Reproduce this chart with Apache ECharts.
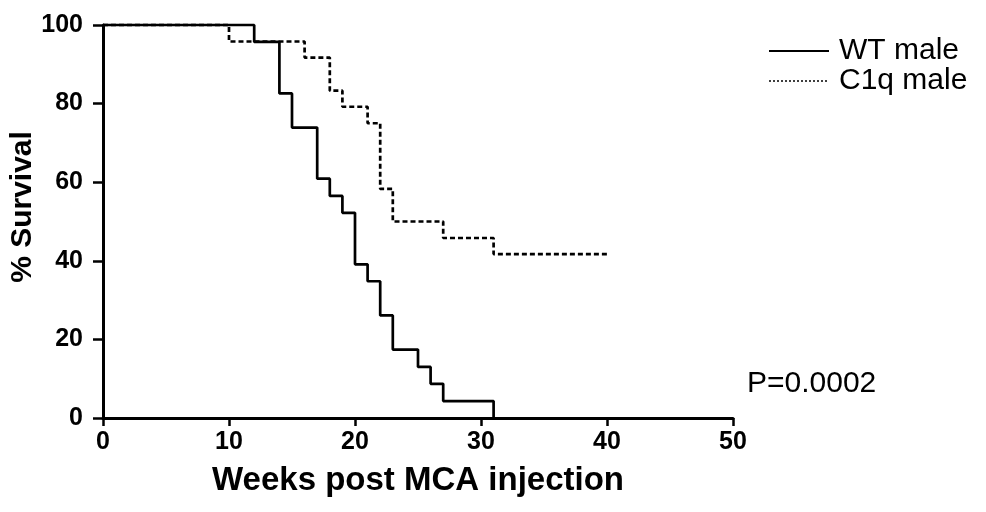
<!DOCTYPE html>
<html>
<head>
<meta charset="utf-8">
<script src="https://cdn.jsdelivr.net/npm/echarts@6/dist/echarts.min.js"></script>
<style>
  html, body { margin: 0; padding: 0; background: #fff; }
  #chart { width: 986px; height: 512px; }
</style>
</head>
<body>
<div id="chart"></div>
<script>
// Kaplan-Meier survival after MCA injection (step values: survival from that week on)
const wtWeeks = [0, 12, 14, 15, 17, 18, 19, 20, 21, 22, 23, 25, 26, 27, 31];
const wtSurvival = [100, 95.7, 82.6, 73.9, 60.9, 56.5, 52.2, 39.1, 34.8, 26.1, 17.4, 13.0, 8.7, 4.3, 0];
const c1qWeeks = [0, 10, 16, 18, 19, 21, 22, 23, 27, 31, 40];
const c1qSurvival = [100, 95.8, 91.7, 83.3, 79.2, 75.0, 58.3, 50.0, 45.8, 41.7, 41.7];

const seriesNames = ['WT male', 'C1q male'];
const xTicks = [0, 10, 20, 30, 40, 50];
const yTicks = [0, 20, 40, 60, 80, 100];
const pValueText = 'P=0.0002';

const pairs = (xs, ys) => xs.map((x, i) => [x, ys[i]]);

const FONT = 'Liberation Sans, Arial, sans-serif';
const chart = echarts.init(document.getElementById('chart'), null, { renderer: 'canvas' });

chart.setOption({
  animation: false,
  backgroundColor: '#ffffff',
  grid: { left: 103, right: 253, top: 25, bottom: 94, containLabel: false },
  xAxis: {
    type: 'value',
    min: xTicks[0],
    max: xTicks[xTicks.length - 1],
    interval: 10,
    name: 'Weeks post MCA injection',
    nameLocation: 'middle',
    nameGap: 46,
    nameTextStyle: { fontFamily: FONT, fontSize: 33, fontWeight: 'bold', color: '#000' },
    axisLine: { show: true, onZero: false, lineStyle: { color: '#000', width: 3 } },
    axisTick: { show: true, length: 8, lineStyle: { color: '#000', width: 2.5 } },
    axisLabel: { margin: 12, fontFamily: FONT, fontSize: 25, fontWeight: 'bold', color: '#000' },
    splitLine: { show: false }
  },
  yAxis: {
    type: 'value',
    min: yTicks[0],
    max: yTicks[yTicks.length - 1],
    interval: 20,
    axisLine: { show: true, onZero: false, lineStyle: { color: '#000', width: 3 } },
    axisTick: { show: true, length: 10, lineStyle: { color: '#000', width: 2.5 } },
    axisLabel: { margin: 20, fontFamily: FONT, fontSize: 25, fontWeight: 'bold', color: '#000' },
    splitLine: { show: false }
  },
  legend: {
    orient: 'vertical',
    left: 768,
    top: 36,
    padding: 0,
    itemWidth: 60,
    itemHeight: 14,
    itemGap: 0,
    selectedMode: false,
    textStyle: { fontFamily: FONT, fontSize: 30, lineHeight: 29, color: '#000', padding: [0, 0, 0, 5] },
    data: [
      { name: seriesNames[0], itemStyle: { opacity: 0 }, lineStyle: { width: 2, type: 'solid', color: '#000' } },
      { name: seriesNames[1], itemStyle: { opacity: 0 }, lineStyle: { width: 1.5, type: [2, 2], color: '#000' } }
    ]
  },
  graphic: [
    {
      type: 'text',
      x: 23,
      y: 207,
      rotation: Math.PI / 2,
      style: {
        text: '% Survival',
        fontFamily: FONT,
        fontSize: 30,
        fontWeight: 'bold',
        fill: '#000',
        align: 'center',
        verticalAlign: 'middle'
      }
    },
    {
      type: 'text',
      x: 747,
      y: 384,
      style: {
        text: pValueText,
        fontFamily: FONT,
        fontSize: 30,
        fill: '#000',
        align: 'left',
        verticalAlign: 'middle'
      }
    }
  ],
  series: [
    {
      name: seriesNames[0],
      type: 'line',
      step: 'end',
      symbol: 'none',
      clip: false,
      color: '#000',
      lineStyle: { color: '#000', width: 2.7, type: 'solid' },
      data: pairs(wtWeeks, wtSurvival)
    },
    {
      name: seriesNames[1],
      type: 'line',
      step: 'end',
      symbol: 'none',
      clip: false,
      color: '#000',
      lineStyle: { color: '#000', width: 2.7, type: [5, 3] },
      data: pairs(c1qWeeks, c1qSurvival)
    }
  ]
});
</script>
</body>
</html>
